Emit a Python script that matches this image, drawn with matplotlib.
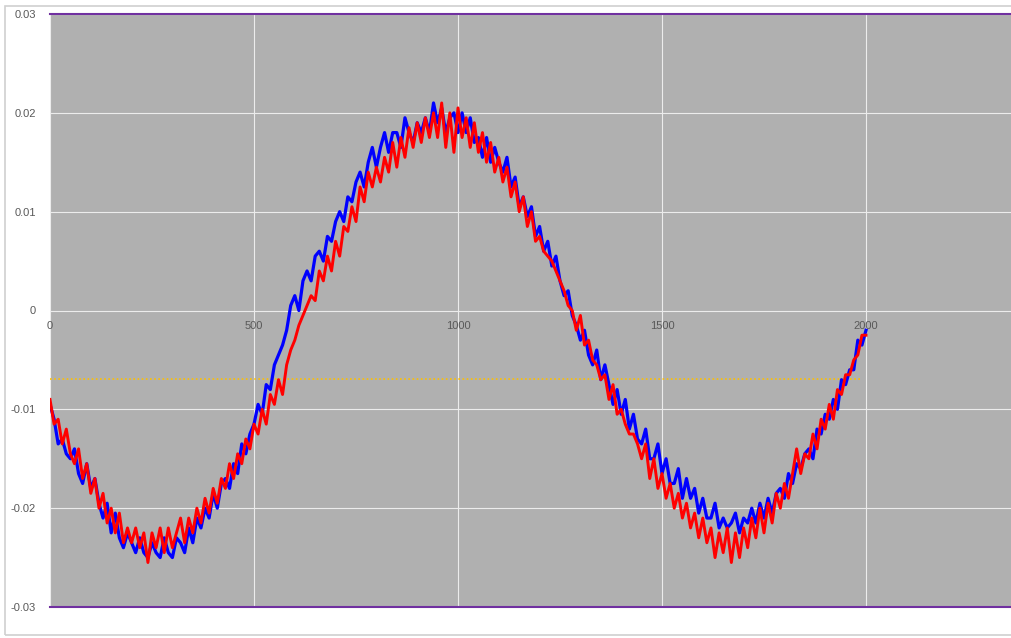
import numpy as np
import matplotlib
matplotlib.use("Agg")
from matplotlib import pyplot as plt
from matplotlib.patches import Rectangle

# sample index, one reading every 10 samples
x = np.arange(0, 2001, 10)

# readings in units of 1e-3
blue_vals = [
    -9.5, -11.0, -13.5, -13.0, -14.5, -15.0, -14.0, -16.5, -17.5, -15.5,
    -18.0, -17.0, -19.5, -21.0, -19.5, -22.5, -20.5, -23.0, -24.0, -22.5,
    -23.5, -24.5, -23.0, -24.5, -25.0, -23.5, -24.5, -25.0, -23.0, -24.5,
    -25.0, -23.0, -23.5, -24.5, -22.0, -23.5, -21.0, -22.0, -20.0, -21.0,
    -18.5, -20.0, -17.5, -17.0, -18.0, -15.5, -16.5, -13.5, -14.5, -12.5,
    -11.5, -9.5, -10.5, -7.5, -8.0, -5.5, -4.5, -3.5, -2.0, 0.5,
    1.5, 0.0, 3.0, 4.0, 3.0, 5.5, 6.0, 5.0, 7.5, 7.0,
    9.0, 10.0, 9.0, 11.5, 11.0, 13.0, 14.0, 12.5, 15.0, 16.5,
    14.5, 16.5, 18.0, 16.0, 18.0, 18.0, 16.5, 19.5, 18.0, 17.0,
    19.0, 18.0, 19.5, 18.0, 21.0, 19.0, 20.5, 18.0, 19.5, 20.0,
    18.0, 20.0, 18.0, 19.5, 17.0, 17.5, 15.5, 17.5, 15.0, 16.5,
    15.0, 14.0, 15.5, 12.5, 13.5, 10.5, 11.5, 9.5, 10.5, 7.5,
    8.5, 6.0, 7.0, 4.5, 5.5, 3.0, 1.5, 2.0, -0.5, -1.5,
    -3.0, -2.0, -4.5, -5.5, -4.0, -7.0, -5.5, -7.5, -9.5, -8.0,
    -10.5, -9.0, -12.0, -10.5, -13.0, -13.5, -12.0, -15.0, -15.0, -13.5,
    -16.5, -15.0, -17.5, -17.5, -16.0, -19.0, -17.0, -19.0, -18.0, -20.5,
    -19.0, -21.0, -21.0, -19.5, -22.0, -21.0, -22.0, -21.5, -20.5, -22.5,
    -21.0, -21.5, -20.0, -21.5, -19.5, -21.0, -19.0, -20.5, -18.5, -18.0,
    -19.0, -16.5, -17.5, -15.5, -16.0, -14.5, -14.0, -15.0, -12.0, -12.5,
    -10.5, -11.0, -9.0, -10.0, -7.0, -7.5, -6.0, -6.0, -3.0, -3.5,
    -2.0,
]

red_vals = [
    -9.0, -11.5, -11.0, -13.5, -12.0, -14.5, -15.5, -14.0, -17.0, -15.5,
    -18.5, -17.0, -20.0, -18.5, -21.5, -20.0, -22.5, -20.5, -23.5, -22.0,
    -23.5, -22.0, -24.0, -22.5, -25.5, -22.5, -24.0, -22.0, -24.5, -22.0,
    -24.0, -22.5, -21.0, -23.5, -21.0, -22.5, -20.0, -21.5, -19.0, -20.5,
    -18.0, -19.5, -17.0, -18.0, -15.5, -17.0, -14.5, -15.5, -13.0, -14.0,
    -11.5, -12.5, -10.0, -11.5, -8.5, -9.5, -7.0, -8.5, -5.5, -4.0,
    -3.0, -1.5, -0.5, 0.5, 1.5, 1.0, 4.0, 3.0, 5.5, 4.0,
    7.0, 5.5, 8.5, 8.0, 10.5, 9.0, 12.5, 11.0, 14.0, 12.5,
    14.5, 13.0, 15.5, 14.0, 17.0, 14.5, 17.5, 15.5, 18.5, 16.5,
    19.0, 17.0, 19.5, 17.5, 20.0, 17.5, 21.0, 16.5, 20.0, 16.0,
    20.5, 17.5, 19.5, 16.5, 19.0, 16.0, 18.0, 15.0, 17.0, 14.0,
    15.5, 13.0, 14.5, 11.5, 13.0, 10.0, 11.5, 8.5, 10.0, 7.0,
    7.5, 6.0, 5.5, 5.0, 4.0, 3.0, 2.0, 0.5, 0.0, -2.0,
    -0.5, -3.5, -3.0, -5.0, -5.5, -7.0, -6.5, -9.0, -7.5, -10.5,
    -10.0, -11.5, -12.5, -12.5, -13.5, -15.0, -13.5, -17.0, -15.0, -18.0,
    -16.5, -19.0, -17.5, -20.0, -18.5, -21.0, -19.5, -22.0, -20.5, -23.0,
    -21.0, -23.5, -22.0, -25.0, -22.5, -24.5, -22.0, -25.5, -22.5, -25.0,
    -22.0, -24.0, -21.0, -23.0, -20.0, -22.5, -19.5, -21.5, -18.5, -20.0,
    -17.5, -19.0, -16.5, -14.0, -16.5, -14.5, -15.0, -12.5, -14.0, -11.0,
    -12.0, -9.5, -11.0, -8.0, -8.5, -6.5, -6.5, -5.0, -4.5, -2.5,
    -2.5,
]

ref_level = -0.0069
ref_span = [0, 1990]

y_ticks = [-0.03, -0.02, -0.01, 0, 0.01, 0.02, 0.03]
y_labels = ["-0.03", "-0.02", "-0.01", "0", "0.01", "0.02", "0.03"]
x_ticks = [0, 500, 1000, 1500, 2000]

W, H = 1011, 638
fig = plt.figure(figsize=(W / 100, H / 100), dpi=100)
fig.patch.set_facecolor("white")

# chart frame like a spreadsheet chart object
fig.patches.append(Rectangle((5 / W, 3 / H), 1.2, (632 - 3) / H, transform=fig.transFigure,
                             fill=False, edgecolor="#d0d0d0", lw=1.2))

ax = fig.add_axes([50 / W, (H - 607) / H, (W - 50) / W, (607 - 14) / H])
ax.set_facecolor("#b0b0b0")
ax.set_xlim(0, (W - 50) / 0.408)
ax.set_ylim(-0.03, 0.03)

for s in ["left", "right", "top", "bottom"]:
    ax.spines[s].set_visible(False)

ax.set_yticks(y_ticks)
ax.set_xticks(x_ticks)
ax.grid(True, color="#ececec", lw=0.8)
ax.set_axisbelow(True)
ax.tick_params(length=0)
ax.set_yticklabels(y_labels, fontsize=8, color="#595959", family="Liberation Sans")
ax.tick_params(axis="y", pad=10)
ax.set_xticklabels([])
for t in x_ticks:
    ax.text(t, -0.0016, str(t), ha="center", va="center", fontsize=8,
            color="#595959", family="Liberation Sans")

ax.axhline(0.03, color="#7030a0", lw=1.5, clip_on=False)
ax.axhline(-0.03, color="#7030a0", lw=1.5, clip_on=False)

ax.plot(ref_span, [ref_level, ref_level], color="#ffc000", lw=1.2, ls=(0, (1, 1.5)))

ax.plot(x, np.array(blue_vals) / 1000, color="#0000ff", lw=2.3)
ax.plot(x, np.array(red_vals) / 1000, color="#ff0000", lw=2.1)

plt.savefig("out.png", dpi=100)
plt.close()
